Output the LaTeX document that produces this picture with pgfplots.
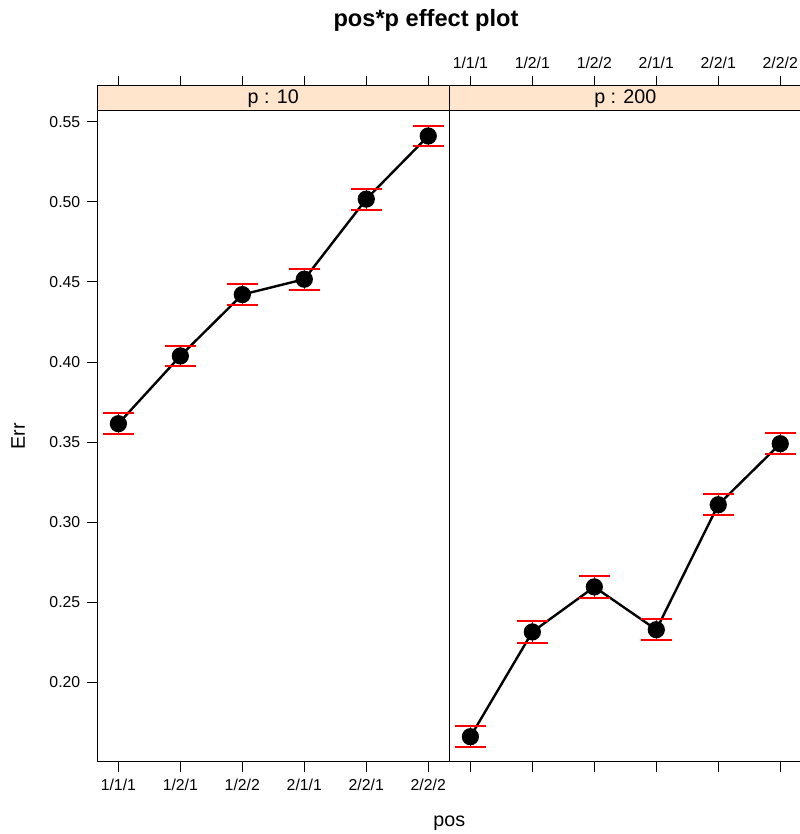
\documentclass[border=0pt]{standalone}
\usepackage{fontspec}
\setmainfont{Liberation Sans}
\usepackage{pgfplots}
\usepackage{pgfplotstable}
\pgfplotsset{compat=1.18}
\definecolor{stripbg}{HTML}{FFE5CC}
\definecolor{rred}{HTML}{FF0000}

\pgfplotstableread{
x y err
1 0.3615 0.0065
2 0.4038 0.0065
3 0.4421 0.0065
4 0.4517 0.0065
5 0.5017 0.0065
6 0.5411 0.0065
}\ptenTable

\pgfplotstableread{
x y err
1 0.1661 0.0066
2 0.2315 0.0066
3 0.2596 0.0066
4 0.2329 0.0066
5 0.3109 0.0066
6 0.3490 0.0066
}\ptwohTable

\pgfplotsset{
  panel/.style={
    scale only axis, width=176pt, height=325.5pt,
    xmin=0.66, xmax=6.34, ymin=0.1505, ymax=0.5569,
    xtick={1,2,3,4,5,6},
    ytick={0.20,0.25,0.30,0.35,0.40,0.45,0.50,0.55},
    yticklabel style={/pgf/number format/.cd, fixed, fixed zerofill, precision=2},
    tick align=outside, major tick length=5pt,
    tick style={black, line width=0.5pt},
    axis line style={line width=0.5pt},
    tick label style={font=\fontsize{7.9}{9}\selectfont},
    /pgf/number format/assume math mode=true,
    xtick pos=left,
    clip=false,
  },
  topticks/.style={
    scale only axis, width=176pt, height=337.85pt,
    xmin=0.66, xmax=6.34, ymin=0, ymax=1,
    axis x line*=top, axis y line=none,
    xtick={1,2,3,4,5,6},
    tick align=outside, major tick length=5pt,
    tick style={black, line width=0.5pt},
    axis line style={line width=0.5pt},
    tick label style={font=\fontsize{7.9}{9}\selectfont},
  },
  barstyle/.style={
    draw=none, mark=none, forget plot,
    error bars/.cd, y dir=both, y explicit,
    error bar style={draw=rred, line width=0.7pt},
    error mark=none,
  },
  capstyle/.style={
    only marks, mark=-, mark size=7.85pt,
    mark options={draw=rred, line width=1pt},
  },
  datastyle/.style={
    black, line width=1.2pt, mark=*, mark size=3.7pt,
    mark options={fill=black, draw=black, solid},
  },
}

\begin{document}
\begin{tikzpicture}
\useasboundingbox (0,0) rectangle (399.5pt,417pt);

% left panel, p : 10
\begin{axis}[panel, at={(48.65pt,36.15pt)}, anchor=south west,
  ytick pos=left,
  xticklabels={1/1/1,1/2/1,1/2/2,2/1/1,2/2/1,2/2/2},
  ylabel={Err},
  every axis y label/.style={at={([xshift=-39.65pt]axis description cs:0,0.5)}, anchor=center, rotate=90, font=\fontsize{9.85}{12}\selectfont},
]
\draw[fill=stripbg, line width=0.5pt] (rel axis cs:0,1) rectangle ([yshift=12.35pt]rel axis cs:1,1);
\node[font=\fontsize{9.85}{12}\selectfont] at ([yshift=6.175pt]rel axis cs:0.5,1) {p : 10};
\addplot[barstyle] table[x=x, y=y, y error=err] {\ptenTable};
\addplot[capstyle] table[x=x, y expr=\thisrow{y}+\thisrow{err}] {\ptenTable};
\addplot[capstyle] table[x=x, y expr=\thisrow{y}-\thisrow{err}] {\ptenTable};
\addplot[datastyle] table[x=x, y=y] {\ptenTable};
\end{axis}

% right panel, p : 200
\begin{axis}[panel, at={(224.65pt,36.15pt)}, anchor=south west,
  ytick pos=right, yticklabels={}, xticklabels={},
]
\draw[fill=stripbg, line width=0.5pt] (rel axis cs:0,1) rectangle ([yshift=12.35pt]rel axis cs:1,1);
\node[font=\fontsize{9.85}{12}\selectfont] at ([yshift=6.175pt]rel axis cs:0.5,1) {p : 200};
\addplot[barstyle] table[x=x, y=y, y error=err] {\ptwohTable};
\addplot[capstyle] table[x=x, y expr=\thisrow{y}+\thisrow{err}] {\ptwohTable};
\addplot[capstyle] table[x=x, y expr=\thisrow{y}-\thisrow{err}] {\ptwohTable};
\addplot[datastyle] table[x=x, y=y] {\ptwohTable};
\end{axis}

% top ticks above the strips
\begin{axis}[topticks, at={(48.65pt,36.15pt)}, anchor=south west, xticklabels={}]
\end{axis}
\begin{axis}[topticks, at={(224.65pt,36.15pt)}, anchor=south west,
  xticklabels={1/1/1,1/2/1,1/2/2,2/1/1,2/2/1,2/2/2}]
\end{axis}

\node[font=\fontsize{9.85}{12}\selectfont] at (224.65pt,5.5pt) {pos};
\node[font=\bfseries\fontsize{11.8}{14}\selectfont] at (213pt,406.8pt) {pos*p effect plot};
\end{tikzpicture}
\end{document}
